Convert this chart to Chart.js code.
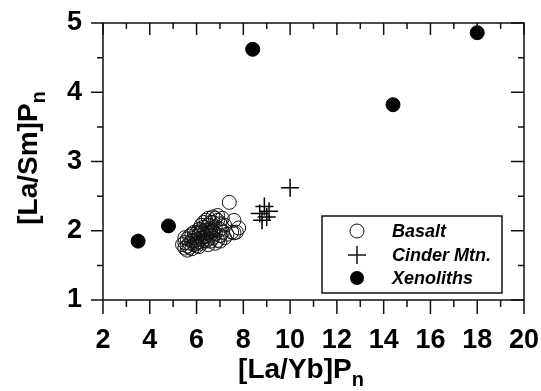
<!DOCTYPE html>
<html>
<head>
<meta charset="utf-8">
<script src="https://cdn.jsdelivr.net/npm/chart.js@4/dist/chart.umd.min.js"></script>
<style>
  body { margin: 0; background: #fff; }
  canvas { display: block; }
</style>
</head>
<body>
<canvas id="chart" width="541" height="391"></canvas>
<script>
// [La/Yb]Pn vs [La/Sm]Pn
const basaltX = [5.4, 5.5, 5.6, 5.6, 5.7, 5.7, 5.8, 5.8, 5.9, 5.9, 6.0, 6.0, 6.1, 6.1, 6.1, 6.2, 6.2, 6.3, 6.3, 6.3, 6.4, 6.4, 6.5, 6.5, 6.5, 6.6, 6.6, 6.7, 6.7, 6.7, 6.8, 6.8, 6.9, 6.9, 7.0, 7.0, 7.1, 7.2, 7.2, 7.4, 7.5, 7.6, 7.7, 7.3, 6.8,
  5.5, 5.6, 5.5, 5.7, 5.8, 5.9, 6.0, 6.0, 6.1, 6.2, 6.2, 6.3, 6.4, 6.4, 6.5, 6.6, 6.6, 6.7, 6.8, 6.9, 7.0, 7.0, 7.1, 6.5, 6.2, 5.9, 6.1, 6.3, 6.6, 7.8, 7.6];
const basaltY = [1.80, 1.83, 1.78, 1.88, 1.82, 1.92, 1.85, 1.95, 1.80, 1.90, 1.87, 1.97, 1.84, 1.93, 2.02, 1.89, 1.98, 1.86, 1.95, 2.05, 1.92, 2.01, 1.88, 1.97, 2.08, 1.94, 2.03, 1.90, 2.00, 2.12, 1.96, 2.06, 1.86, 2.15, 1.93, 2.02, 1.98, 1.90, 2.08, 2.41, 1.98, 2.15, 1.98, 1.95, 1.82,
  1.75, 1.72, 1.90, 1.76, 1.74, 1.98, 1.78, 1.82, 1.77, 2.08, 1.82, 2.12, 1.85, 2.15, 2.18, 2.12, 1.85, 2.20, 2.18, 2.22, 2.10, 1.85, 2.18, 1.80, 2.00, 1.85, 1.96, 1.91, 1.98, 2.04, 1.97];
const cinderX = [8.7, 8.9, 9.0, 8.8, 9.1, 10.0];
const cinderY = [2.25, 2.35, 2.20, 2.15, 2.28, 2.62];
const xenoX = [3.5, 4.8, 8.4, 14.4, 18.0];
const xenoY = [1.85, 2.07, 4.62, 3.82, 4.86];

const xTicks = [2, 4, 6, 8, 10, 12, 14, 16, 18, 20];
const yTicks = [1, 2, 3, 4, 5];
const seriesNames = ['Basalt', 'Cinder Mtn.', 'Xenoliths'];

const FONT = '"Liberation Sans", Arial, sans-serif';

function pts(xs, ys) {
  return xs.map((x, i) => ({ x: x, y: ys[i] }));
}

// frame, in/out ticks (major + minor), axis titles with subscript
const framePlugin = {
  id: 'frame',
  afterDraw(chart) {
    const c = chart.ctx;
    const a = chart.chartArea;
    const sx = chart.scales.x, sy = chart.scales.y;
    c.save();
    c.strokeStyle = '#111';
    c.lineWidth = 1.5;
    c.strokeRect(a.left, a.top, a.right - a.left, a.bottom - a.top);
    c.beginPath();
    for (let v = 2; v <= 20; v++) {
      const px = sx.getPixelForValue(v);
      const major = v % 2 === 0;
      c.moveTo(px, a.bottom); c.lineTo(px, a.bottom + (major ? 14 : 7));
      c.moveTo(px, a.top); c.lineTo(px, a.top + (major ? 12 : 6));
    }
    for (let v = 1; v <= 5; v += 0.5) {
      const py = sy.getPixelForValue(v);
      const major = Number.isInteger(v);
      c.moveTo(a.left, py); c.lineTo(a.left - (major ? 12 : 6), py);
      c.moveTo(a.right, py); c.lineTo(a.right - (major ? 13 : 6), py);
    }
    c.stroke();

    // titles
    c.fillStyle = '#000';
    c.textBaseline = 'alphabetic';
    c.textAlign = 'left';
    const drawTitle = (main, sub, cx, base) => {
      c.font = 'bold 28px ' + FONT;
      const w1 = c.measureText(main).width;
      c.font = 'bold 20px ' + FONT;
      const w2 = c.measureText(sub).width;
      const x0 = cx - (w1 + w2) / 2;
      c.font = 'bold 28px ' + FONT;
      c.fillText(main, x0, base);
      c.font = 'bold 20px ' + FONT;
      c.fillText(sub, x0 + w1, base + 8);
    };
    drawTitle('[La/Yb]P', 'n', 301, 378);
    c.save();
    c.translate(37, 158);
    c.rotate(-Math.PI / 2);
    drawTitle('[La/Sm]P', 'n', 0, 0);
    c.restore();
    c.restore();
  }
};

// inset legend box
const legendPlugin = {
  id: 'insetLegend',
  afterDraw(chart) {
    const c = chart.ctx;
    c.save();
    c.strokeStyle = '#111';
    c.lineWidth = 1.5;
    c.fillStyle = '#fff';
    c.fillRect(322, 216, 180, 77);
    c.strokeRect(322, 216, 180, 77);
    const rows = [231, 255, 278];
    const mx = 357;
    c.lineWidth = 1;
    // open circle
    c.beginPath(); c.arc(mx, rows[0], 7, 0, Math.PI * 2); c.stroke();
    // cross
    c.lineWidth = 1.5;
    c.beginPath();
    c.moveTo(mx - 9, rows[1]); c.lineTo(mx + 9, rows[1]);
    c.moveTo(mx, rows[1] - 9); c.lineTo(mx, rows[1] + 9);
    c.stroke();
    // filled circle
    c.fillStyle = '#000';
    c.beginPath(); c.arc(mx, rows[2], 7, 0, Math.PI * 2); c.fill();
    c.font = 'italic bold 18px ' + FONT;
    c.textBaseline = 'middle';
    seriesNames.forEach((n, i) => c.fillText(n, 392, rows[i] + 1));
    c.restore();
  }
};

const ctx = document.getElementById('chart').getContext('2d');
new Chart(ctx, {
  type: 'scatter',
  data: {
    datasets: [{
      label: seriesNames[0],
      data: pts(basaltX, basaltY),
      pointStyle: 'circle',
      pointRadius: 7,
      backgroundColor: 'rgba(255,255,255,0)',
      borderColor: '#111',
      borderWidth: 1
    }, {
      label: seriesNames[1],
      data: pts(cinderX, cinderY),
      pointStyle: 'cross',
      pointRadius: 9,
      borderColor: '#000',
      borderWidth: 1.5
    }, {
      label: seriesNames[2],
      data: pts(xenoX, xenoY),
      pointStyle: 'circle',
      pointRadius: 7,
      backgroundColor: '#000',
      borderColor: '#000',
      borderWidth: 1
    }]
  },
  options: {
    responsive: false,
    animation: false,
    devicePixelRatio: 1,
    layout: { padding: { left: 0, right: 17, top: 23, bottom: 0 } },
    scales: {
      x: {
        type: 'linear',
        min: 2,
        max: 20,
        afterBuildTicks: s => { s.ticks = xTicks.map(v => ({ value: v })); },
        afterFit: s => { s.height = 91; s.paddingLeft = 0; s.paddingRight = 0; },
        grid: { display: false, drawTicks: false },
        border: { display: false },
        ticks: {
          color: '#000',
          padding: 24,
          maxRotation: 0,
          autoSkip: false,
          font: { family: FONT, size: 27, weight: 'bold' }
        }
      },
      y: {
        type: 'linear',
        min: 1,
        max: 5,
        afterBuildTicks: s => { s.ticks = yTicks.map(v => ({ value: v })); },
        afterFit: s => { s.width = 103; s.paddingTop = 0; s.paddingBottom = 0; },
        grid: { display: false, drawTicks: false },
        border: { display: false },
        ticks: {
          color: '#000',
          padding: 21,
          font: { family: FONT, size: 27, weight: 'bold' }
        }
      }
    },
    plugins: {
      legend: { display: false },
      tooltip: { enabled: false }
    }
  },
  plugins: [framePlugin, legendPlugin]
});
</script>
</body>
</html>
